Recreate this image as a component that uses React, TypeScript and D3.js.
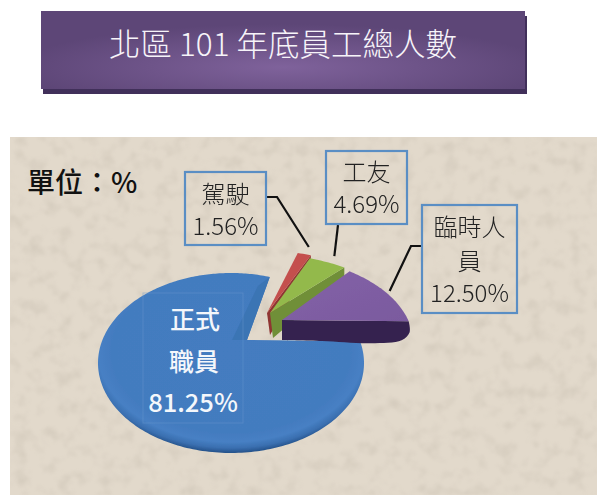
import * as d3 from "d3";

const width = 597;
const height = 495;

const categories = ["駕駛", "工友", "臨時人員", "正式職員"];
const values = [1.56, 4.69, 12.5, 81.25];
const titleText = "北區 101 年底員工總人數";
const unitText = "單位：%";

const font = "'Noto Sans CJK TC', 'Noto Sans', sans-serif";

// the pie is drawn in perspective: ellipse + a warp that squeezes the far side
const cx = 231;
const cy = 363;
const rx = 133;
const ry = 90;
const warp = 0.235;
const hub: [number, number] = [247, 340];

// how far each slice is pulled out of the pie, and its stretch
const slices = [
  { hub: [267, 313], kx: 1.35, ky: 0.95, fill: "#c4504e", side: "#8f3432", depth: 22 },
  { hub: [270, 313], kx: 1.23, ky: 0.9, fill: "#93b94c", side: "#6f8f37", depth: 25 },
  { hub: [282, 320], kx: 1.12, ky: 0.96, fill: "url(#purpleTop)", side: "#35244f", depth: 21 },
  { hub, kx: 1, ky: 1, fill: "url(#blueTop)", side: "#3b74b4", depth: 0 },
];

const pie = d3
  .pie<number>()
  .sort(null)
  .startAngle((22 * Math.PI) / 180)
  .endAngle((22 * Math.PI) / 180 + 2 * Math.PI);
const arcs = pie(values);

function rim(t: number): [number, number] {
  const s = t - warp * Math.sin(t);
  return [cx + rx * Math.sin(s), cy - ry * Math.cos(s)];
}

function slicePoint(i: number, t: number, reach = 1): [number, number] {
  const c = slices[i];
  const [x, y] = rim(t);
  return [
    c.hub[0] + (x - hub[0]) * c.kx * reach,
    c.hub[1] + (y - hub[1]) * c.ky * reach,
  ];
}

function rimPoints(i: number) {
  const a = arcs[i];
  const n = Math.ceil((a.endAngle - a.startAngle) / 0.02);
  return d3.range(n + 1).map((k) =>
    slicePoint(i, a.startAngle + ((a.endAngle - a.startAngle) * k) / n)
  );
}

const line = d3.line();
const smooth = d3.line().curve(d3.curveCatmullRom);

function topPath(i: number) {
  return line([slices[i].hub as [number, number], ...rimPoints(i)]) + "Z";
}

function sidePath(i: number) {
  const c = slices[i];
  const end = slicePoint(i, arcs[i].endAngle);
  const d = c.depth;
  return (
    line([
      c.hub as [number, number],
      end,
      [end[0], end[1] + d * 0.4],
      [c.hub[0] + 3, c.hub[1] + d],
    ]) + "Z"
  );
}

function purpleSide() {
  const c = slices[2];
  const end = slicePoint(2, arcs[2].endAngle);
  const edge = smooth([
    end,
    [end[0] + 1, end[1] + 11],
    [end[0] - 7, end[1] + 19],
    [end[0] - 38, end[1] + 22],
    [c.hub[0] + 40, c.hub[1] + 21],
    [c.hub[0], c.hub[1] + 20],
  ]);
  return `M${c.hub[0]},${c.hub[1]}L${end[0]},${end[1]}` + edge!.replace(/^M[^CL]*/, "") + "Z";
}

function wallPath() {
  const tip = slicePoint(3, arcs[3].endAngle);
  return (
    line([
      tip,
      hub,
      [hub[0] - 15, hub[1]],
      [tip[0] - 12, tip[1] + 9],
    ]) + "Z"
  );
}

const callouts = [
  {
    i: 0, x: 185, y: 172, w: 81, h: 73, reach: 1.12,
    lines: ["駕駛", "1.56%"], ys: [203, 235],
    elbow: [[266, 197], [277, 197]], anchor: 0.5,
  },
  {
    i: 1, x: 326, y: 151, w: 81, h: 73, reach: 1.12,
    lines: ["工友", "4.69%"], ys: [181, 213],
    elbow: [[338, 225]], anchor: 0.5,
  },
  {
    i: 2, x: 422, y: 205, w: 95, h: 108, reach: 1.04,
    lines: ["臨時人", "員", "12.50%"], ys: [236, 270, 302],
    elbow: [[422, 246], [411, 246]], anchor: 0.5,
  },
];

export default function App() {
  return (
    <svg
      width={width}
      height={height}
      style={{ position: "absolute", left: 0, top: 0, background: "#fff" }}
    >
      <defs>
        <radialGradient id="banner" cx="50%" cy="72%" r="55%">
          <stop offset="0%" stopColor="#7f629b" />
          <stop offset="100%" stopColor="#5d4677" />
        </radialGradient>
        <radialGradient id="blueTop" cx="50%" cy="44%" r="56%">
          <stop offset="0%" stopColor="#447cc0" />
          <stop offset="80%" stopColor="#437bbf" />
          <stop offset="89%" stopColor="#4780c4" />
          <stop offset="95%" stopColor="#3a6fb0" />
          <stop offset="100%" stopColor="#245189" />
        </radialGradient>
        <linearGradient id="purpleTop" x1="0" y1="0" x2="1" y2="1">
          <stop offset="0%" stopColor="#8461a8" />
          <stop offset="100%" stopColor="#7a5a9e" />
        </linearGradient>
        <filter id="paper" x="0" y="0" width="100%" height="100%">
          <feTurbulence type="fractalNoise" baseFrequency="0.07" numOctaves="3" seed="11" />
          <feColorMatrix
            type="matrix"
            values="0 0 0 0 0.45  0 0 0 0 0.40  0 0 0 0 0.33  1.8 0 0 0 -0.85"
          />
          <feGaussianBlur stdDeviation="1" />
        </filter>
        <filter id="soft" x="-5%" y="-5%" width="110%" height="110%">
          <feGaussianBlur stdDeviation="0.5" />
        </filter>
        <filter id="softText" x="-5%" y="-5%" width="110%" height="110%">
          <feGaussianBlur stdDeviation="0.35" />
        </filter>
      </defs>

      {/* title banner */}
      <rect x={43} y={16} width={484} height={78} fill="#41305a" />
      <rect x={41} y={11} width={484} height={78} fill="url(#banner)" />
      <text
        x={283}
        y={56}
        textAnchor="middle"
        fontFamily={font}
        fontSize={31.5}
        fontWeight={300}
        fill="#f7f4f9"
      >
        {titleText}
      </text>

      {/* paper background */}
      <rect x={10} y={137} width={587} height={358} fill="#e2d9cb" />
      <rect x={10} y={137} width={587} height={358} filter="url(#paper)" opacity={0.35} />

      <text x={27} y={193} fontFamily={font} fontSize={28} fontWeight={500} fill="#111">
        {unitText}
      </text>

      {/* exploded slices, far ones first */}
      <g filter="url(#soft)">
        <path d={sidePath(0)} fill={slices[0].side} />
        <path d={topPath(0)} fill={slices[0].fill} />
        <path d={sidePath(1)} fill={slices[1].side} />
        <path d={topPath(1)} fill={slices[1].fill} />
        <path d={topPath(3)} fill={slices[3].fill} />
        <path d={wallPath()} fill={slices[3].side} />
        <rect x={143} y={293} width={100} height={130} fill="none" stroke="#6b97cc" strokeOpacity={0.45} />
        <path d={purpleSide()} fill={slices[2].side} />
        <path d={topPath(2)} fill={slices[2].fill} />
      </g>

      {/* labels inside the big slice */}
      <g fontFamily={font} fill="#f4f7fb" textAnchor="middle" fontWeight={500}>
        <text x={195} y={329} fontSize={25}>正式</text>
        <text x={194} y={371} fontSize={25}>職員</text>
        <text x={193} y={412} fontSize={25.5}>81.25%</text>
      </g>

      {/* callouts */}
      {callouts.map((c) => {
        const a = arcs[c.i];
        const t = a.startAngle + (a.endAngle - a.startAngle) * c.anchor;
        const tail = slicePoint(c.i, t, c.reach);
        return (
          <g key={categories[c.i]}>
            <path
              d={line([...(c.elbow as [number, number][]), tail])!}
              fill="none"
              stroke="#111"
              strokeWidth={2.2}
            />
            <rect
              x={c.x}
              y={c.y}
              width={c.w}
              height={c.h}
              fill="none"
              stroke="#5a8ec4"
              strokeWidth={2.2}
            />
            <g filter="url(#softText)">
              {c.lines.map((s, k) => (
                <text
                  key={k}
                  x={c.x + c.w / 2}
                  y={c.ys[k]}
                  textAnchor="middle"
                  fontFamily={font}
                  fontSize={24}
                  fontWeight={300}
                  fill="#222"
                >
                  {s}
                </text>
              ))}
            </g>
          </g>
        );
      })}
    </svg>
  );
}
